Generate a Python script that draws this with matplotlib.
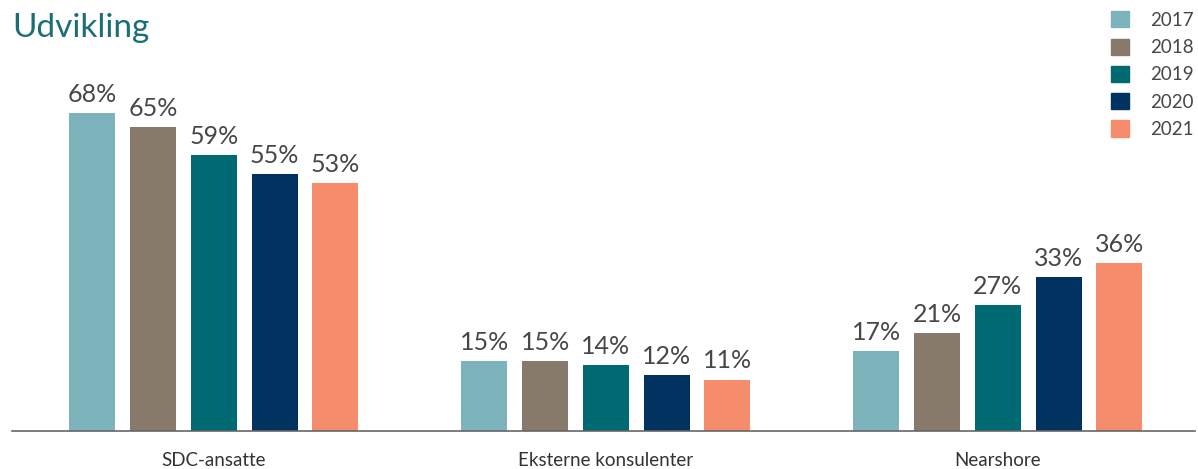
import numpy as np
import matplotlib.pyplot as plt
from matplotlib.patches import Patch

categories = ['SDC-ansatte', 'Eksterne konsulenter', 'Nearshore']
years = ['2017', '2018', '2019', '2020', '2021']
values = {
    '2017': [68, 15, 17],
    '2018': [65, 15, 21],
    '2019': [59, 14, 27],
    '2020': [55, 12, 33],
    '2021': [53, 11, 36],
}
colors = ['#7DB3BC', '#877A6A', '#006A73', '#00335F', '#F58C6C']

W, H = 1198, 469
fig = plt.figure(figsize=(W / 100, H / 100), dpi=100)
plt.rcParams['font.family'] = ['Lato', 'DejaVu Sans']

# axes placed in pixel terms: baseline at y=431, from x=12 to 1195
left, right, bottom, top = 12, 1195, 431, 60
ax = fig.add_axes([left / W, 1 - bottom / H, (right - left) / W, (bottom - top) / H])

x = np.arange(len(categories))
pitch = 0.155
width = 0.117
for i, (yr, col) in enumerate(zip(years, colors)):
    pos = x + (i - 2) * pitch
    bars = ax.bar(pos, values[yr], width=width, color=col, label=yr)
    for b, v in zip(bars, values[yr]):
        ax.text(b.get_x() + b.get_width() / 2, v + 1.5, f'{v}%',
                ha='center', va='bottom', fontsize=18, color='#474747')

ax.set_xlim(-0.515, 2.503)
ax.set_ylim(0, (bottom - top) / 4.68)
ax.set_yticks([])
ax.set_xticks([])
for xi, cat in zip(x, categories):
    ax.text(xi, -30 / 4.68, cat, ha='center', va='center', fontsize=13.5,
            color='#333333')
for s in ['top', 'right', 'left']:
    ax.spines[s].set_visible(False)
ax.spines['bottom'].set_color('#666666')
ax.spines['bottom'].set_linewidth(1.2)

fig.text(12 / W, 1 - 28 / H, 'Udvikling', fontsize=24, color='#1A6E78',
         ha='left', va='center')

handles = [Patch(color=c, label=y) for y, c in zip(years, colors)]
fig.legend(handles=handles, loc='upper right', bbox_to_anchor=(1.004, 0.996),
           frameon=False, handlelength=0.95, handleheight=0.95,
           handletextpad=1.1, labelspacing=0.52, labelcolor='#474747',
           borderaxespad=0.1, prop={'size': 13.5})

fig.savefig('out.png', dpi=100)
